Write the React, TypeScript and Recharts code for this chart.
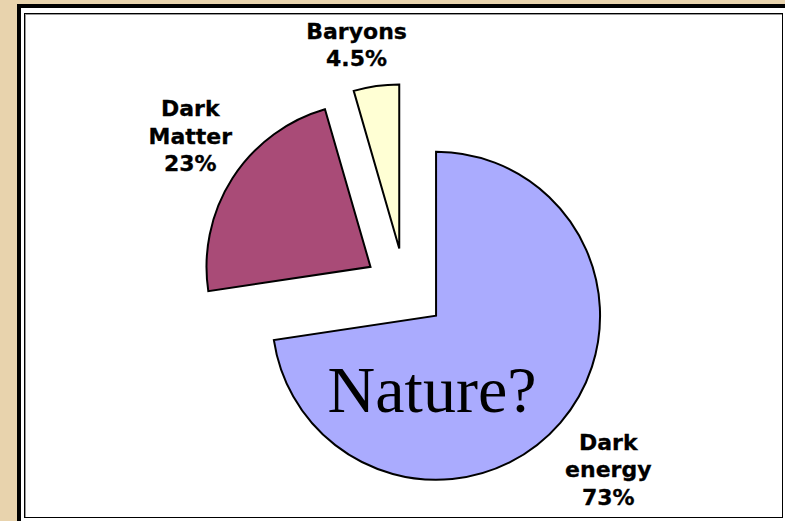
import React from 'react';
import { PieChart, Pie, Cell } from 'recharts';

// Composition of the universe
const components = ['Dark energy', 'Dark Matter', 'Baryons'];
const shares = [73, 23, 4.5];
const labelLines = [['Dark', 'energy'], ['Dark', 'Matter'], ['Baryons']];
const colors = ['#AAABFE', '#A94B77', '#FFFFD4'];
// small hand nudges so the labels sit where Excel put them
const labelNudge = [[1, 6], [10, -9], [-11, 20]];

const data = components.map((name, i) => ({ name, value: shares[i] }));

const W = 785;
const H = 521;
const CX = 405;
const CY = 289;
const R = 164;
const EXPLODE = 41;
const START = 90;
const END = -270;
const RAD = Math.PI / 180;

// mid angle of each slice, used to push the slice out from the centre
const total = shares.reduce((a, b) => a + b, 0);
const midAngles = shares.map((v, i) => {
  const before = shares.slice(0, i).reduce((a, b) => a + b, 0);
  return START - ((before + v / 2) / total) * 360;
});

const renderLabel = (visible: number) => (props: any) => {
  const { cx, cy, midAngle, outerRadius, index } = props;
  if (index !== visible) return null;
  const r = outerRadius + 62;
  const x = cx + r * Math.cos(-midAngle * RAD) + labelNudge[index][0];
  const y = cy + r * Math.sin(-midAngle * RAD) + labelNudge[index][1];
  const lines = [...labelLines[index], `${shares[index]}%`];
  const lh = 27.5;
  const y0 = y - ((lines.length - 1) * lh) / 2;
  return (
    <g>
      <text
        x={x}
        y={y0}
        textAnchor="middle"
        dominantBaseline="central"
        fontFamily="'DejaVu Sans', Verdana, sans-serif"
        fontWeight="bold"
        fontSize={22}
        fill="#000"
        stroke="#000"
        strokeWidth={0.3}
      >
        {lines.map((t, k) => (
          <tspan key={k} x={x} dy={k === 0 ? 0 : lh}>
            {t}
          </tspan>
        ))}
      </text>
      {index === 0 && (
        // the open question written across the dark energy slice
        <text
          x={cx - 4}
          y={cy + 96}
          textAnchor="middle"
          fontFamily="'Liberation Serif', 'Times New Roman', serif"
          fontSize={66}
          fill="#000"
        >
          Nature?
        </text>
      )}
    </g>
  );
};

export default function App() {
  return (
    <div
      style={{
        position: 'absolute',
        left: 0,
        top: 0,
        width: W,
        height: H,
        overflow: 'hidden',
        background: '#E8D3AD',
      }}
    >
      <div
        style={{
          position: 'absolute',
          left: 17,
          top: 4,
          width: W,
          height: H,
          border: '4px solid #000',
          background: '#fff',
        }}
      />
      <div
        style={{
          position: 'absolute',
          left: 24,
          top: 13,
          width: 757,
          height: 503,
          border: '1px solid #000',
          boxShadow: 'inset 1px 1px 0 #999',
        }}
      />
      <div style={{ position: 'absolute', left: 0, top: 0 }}>
        <PieChart width={W} height={H} margin={{ top: 0, right: 0, bottom: 0, left: 0 }}>
          {data.map((_, k) => (
            <Pie
              key={k}
              data={data}
              dataKey="value"
              nameKey="name"
              cx={CX + EXPLODE * Math.cos(-midAngles[k] * RAD)}
              cy={CY + EXPLODE * Math.sin(-midAngles[k] * RAD)}
              outerRadius={R}
              innerRadius={0}
              startAngle={START}
              endAngle={END}
              isAnimationActive={false}
              labelLine={false}
              label={renderLabel(k)}
            >
              {data.map((d, i) => (
                <Cell
                  key={d.name}
                  fill={i === k ? colors[i] : 'none'}
                  stroke={i === k ? '#000' : 'none'}
                  strokeWidth={2}
                />
              ))}
            </Pie>
          ))}
        </PieChart>
      </div>
    </div>
  );
}
